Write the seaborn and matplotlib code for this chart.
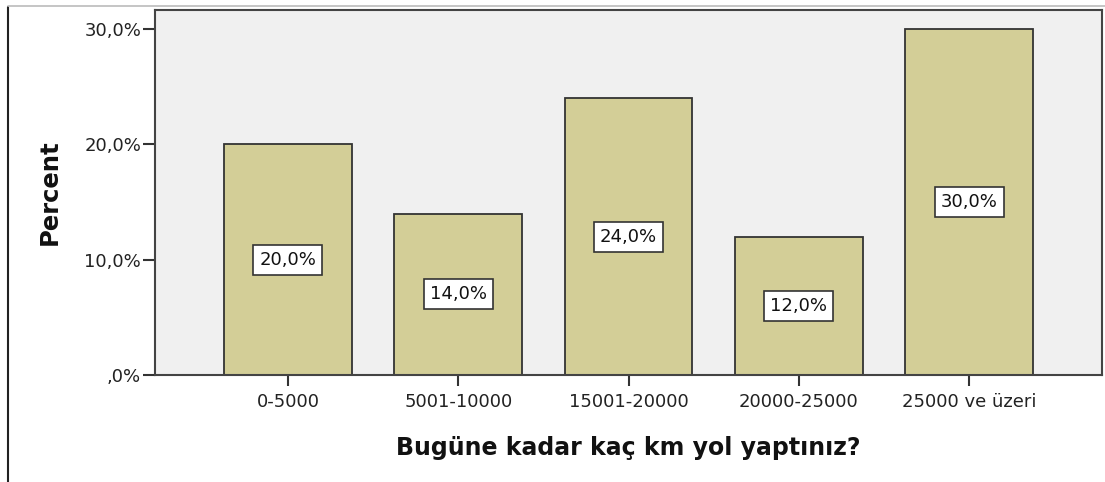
import matplotlib
matplotlib.use("Agg")
import matplotlib.pyplot as plt
from matplotlib.lines import Line2D
import pandas as pd
import seaborn as sns

categories = ["0-5000", "5001-10000", "15001-20000", "20000-25000", "25000 ve üzeri"]
percent = [20.0, 14.0, 24.0, 12.0, 30.0]
y_ticks = [0, 10, 20, 30]
y_tick_labels = [",0%", "10,0%", "20,0%", "30,0%"]

df = pd.DataFrame({"km": categories, "percent": percent})

sns.set_style("white")
plt.rcParams["font.family"] = ["DejaVu Sans"]

fig = plt.figure(figsize=(11.05, 4.82), dpi=100)
ax = fig.add_axes([0.1403, 0.222, 0.857, 0.757])

sns.barplot(
    data=df,
    x="km",
    y="percent",
    color="#D3CE97",
    edgecolor="#333333",
    linewidth=1.3,
    width=0.75,
    saturation=1,
    ax=ax,
)

ax.set_facecolor("#F0F0F0")
ax.set_xlim(-0.78, 4.78)
ax.set_ylim(0, 31.65)
ax.set_yticks(y_ticks)
ax.set_yticklabels(y_tick_labels)

for spine in ax.spines.values():
    spine.set_visible(True)
    spine.set_color("#444444")
    spine.set_linewidth(1.5)

ax.tick_params(axis="both", direction="out", width=1.5, color="#333333",
               labelsize=13, labelcolor="#222222")
ax.tick_params(axis="y", length=9, pad=1)
ax.tick_params(axis="x", length=8, pad=5)
ax.tick_params(left=True, bottom=True)

ax.set_xlabel("Bugüne kadar kaç km yol yaptınız?", fontsize=17, fontweight="bold",
              labelpad=18, color="#111111")
ax.set_ylabel("Percent", fontsize=17.5, fontweight="bold", labelpad=16, color="#111111")

# value labels in white boxes at half bar height
for i, v in enumerate(percent):
    ax.text(
        i, v / 2, f"{v:.1f}%".replace(".", ","),
        ha="center", va="center", fontsize=13, color="#111111",
        bbox=dict(boxstyle="square,pad=0.33", facecolor="white", edgecolor="#333333", linewidth=1.2),
    )

# outer frame lines (left and top)
fig.add_artist(Line2D([8 / 1105, 8 / 1105], [0, 1 - 7 / 482], color="#222222", linewidth=1.5))
fig.add_artist(Line2D([8 / 1105, 1], [1 - 6 / 482, 1 - 6 / 482], color="#BBBBBB", linewidth=1.2))

fig.savefig("out.png", dpi=100)
plt.close(fig)
